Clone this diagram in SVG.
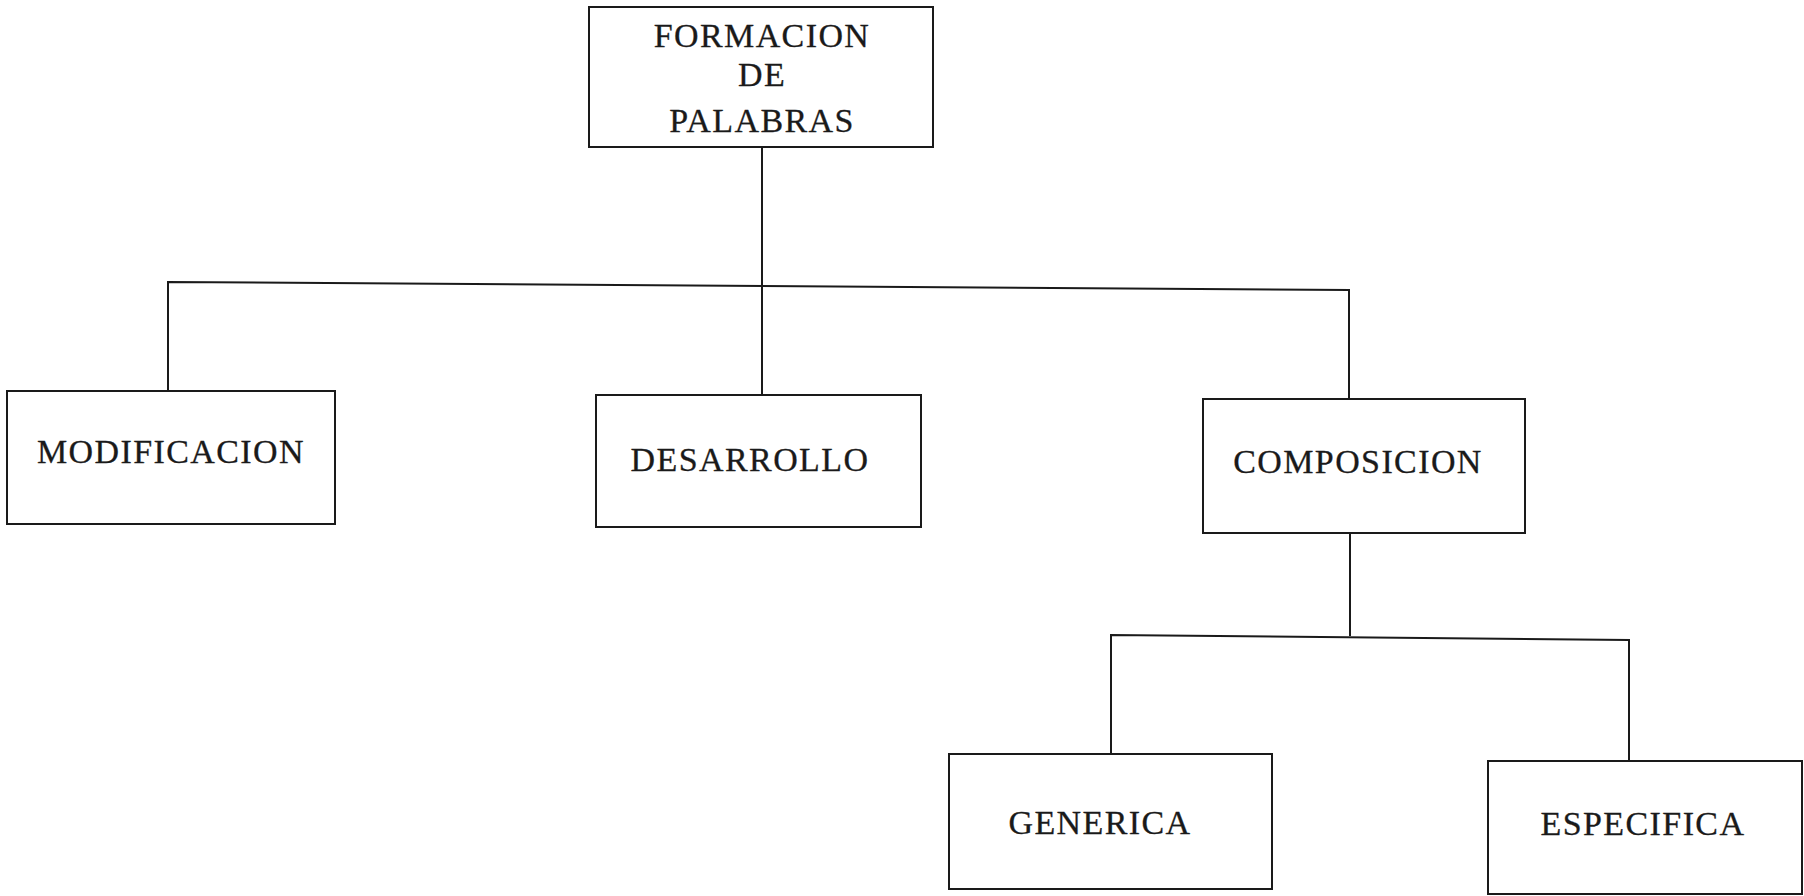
<svg xmlns="http://www.w3.org/2000/svg" width="1804" height="896" viewBox="0 0 1804 896">
<style>
.box{fill:none;stroke:#1a1a1a;stroke-width:2}
.ln{fill:none;stroke:#1a1a1a;stroke-width:2}
.t{font-family:"Liberation Serif","Times New Roman",serif;font-size:34px;letter-spacing:1.4px;fill:#1a1a1a;stroke:#1a1a1a;stroke-width:0.3;text-anchor:middle}
</style>
<rect width="1804" height="896" fill="#ffffff"/>
<g id="connectors">
<polyline class="ln" points="168,391 168,282 1349,290 1349,399"/>
<line class="ln" x1="762" y1="147" x2="762" y2="394"/>
<polyline class="ln" points="1350,533 1350,636"/>
<polyline class="ln" points="1111,754 1111,635 1629,640 1629,761"/>
</g>
<g id="n-formacion">
<rect class="box" x="589" y="7" width="344" height="140"/>
<text class="t" x="762" y="47">FORMACION</text>
<text class="t" x="762" y="86">DE</text>
<text class="t" x="762" y="132">PALABRAS</text>
</g>
<g id="n-modificacion">
<rect class="box" x="7" y="391" width="328" height="133"/>
<text class="t" x="171" y="463">MODIFICACION</text>
</g>
<g id="n-desarrollo">
<rect class="box" x="596" y="395" width="325" height="132"/>
<text class="t" x="750" y="471">DESARROLLO</text>
</g>
<g id="n-composicion">
<rect class="box" x="1203" y="399" width="322" height="134"/>
<text class="t" x="1358" y="473">COMPOSICION</text>
</g>
<g id="n-generica">
<rect class="box" x="949" y="754" width="323" height="135"/>
<text class="t" x="1100" y="834">GENERICA</text>
</g>
<g id="n-especifica">
<rect class="box" x="1488" y="761" width="314" height="133"/>
<text class="t" x="1643" y="835">ESPECIFICA</text>
</g>
</svg>
